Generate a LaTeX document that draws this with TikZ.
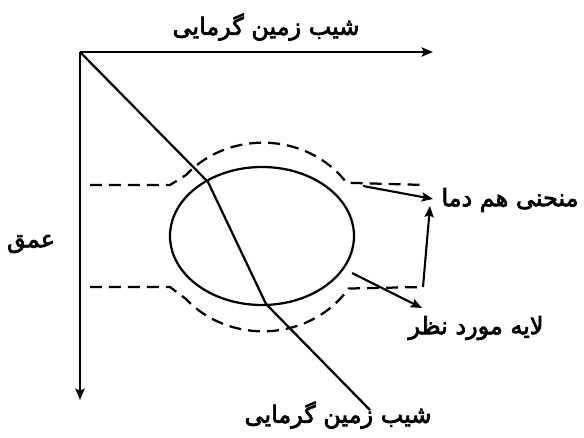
\documentclass[tikz,border=0pt]{standalone}
\usepackage{fontspec}
\usetikzlibrary{arrows.meta}
\newfontfamily\farsi[Script=Arabic,FakeBold=3]{DejaVu Sans}
\TeXXeTstate=1

\tikzset{
  axis/.style={line width=1.6pt,-{Stealth[length=8pt,width=6.5pt,inset=1.5pt]}},
  isoline/.style={line width=1.6pt,dash pattern=on 8.5pt off 5pt},
  pointer/.style={line width=1.5pt,-{Stealth[length=8pt,width=6.5pt,inset=1.5pt]}},
  lbl/.style={font=\farsi\fontsize{17}{20}\selectfont,inner sep=0pt}
}

\begin{document}
\begin{tikzpicture}[x=0.025cm,y=-0.025cm]
\useasboundingbox (0,0) rectangle (584,438);

% Axes
\coordinate (O) at (80,52);
\coordinate (xend) at (433,52);
\coordinate (yend) at (80,400);
\draw[axis] (O) -- (xend);
\draw[axis] (O) -- (yend);

% Layer
\draw[line width=1.6pt] (262,236) ellipse (92 and 69);

% Isotherms
\draw[isoline] (90,185) -- (170,185) -- (186,175)
  arc[start angle=-139,end angle=-35,x radius=102,y radius=94] -- (425,185);
\draw[isoline] (90,287) -- (170,287) -- (186,299)
  arc[start angle=139,end angle=33,x radius=102,y radius=94] -- (423,287);

% Gradient line (bends through the layer)
\coordinate (g1) at (208,182);
\coordinate (g2) at (266,304);
\coordinate (gend) at (370,410);
\draw[line width=1.6pt] (O) -- (g1) -- (g2) -- (gend);

% Pointers
\coordinate (p1) at (363,186);
\coordinate (t1) at (433,199);
\coordinate (p2) at (423,287);
\coordinate (t2) at (430,206);
\coordinate (p3) at (352,273);
\coordinate (t3) at (422,308);
\draw[pointer] (p1) -- (t1);
\draw[pointer] (p2) -- (t2);
\draw[pointer] (p3) -- (t3);

% Labels
\node[lbl] (gradtop) at (266,27) {\beginR شیب زمین گرمایی\endR};
\node[lbl] (gradbot) at (338,415) {\beginR شیب زمین گرمایی\endR};
\node[lbl] (depth) at (31,244) {\beginR عمق\endR};
\node[lbl] (iso) at (510,200) {\beginR منحنی هم دما\endR};
\node[lbl] (layer) at (476,328) {\beginR لایه مورد نظر\endR};

\end{tikzpicture}
\end{document}
